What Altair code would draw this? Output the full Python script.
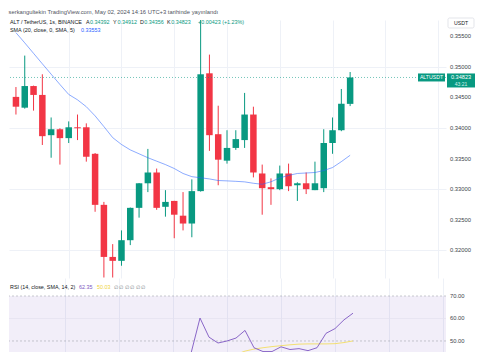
import altair as alt
import pandas as pd

# ---------------- data ----------------
idx = list(range(39))
opens = [0.34506, 0.34330, 0.34683, 0.34538, 0.33881, 0.33978, 0.33833, 0.34010, 0.34010, 0.33577,
         0.32744, 0.31894, 0.31830, 0.32167, 0.32695, 0.33096, 0.33272, 0.32712, 0.32808, 0.32567,
         0.32439, 0.32968, 0.34891, 0.33897, 0.33465, 0.33673, 0.33801, 0.34218, 0.33256, 0.33032,
         0.33000, 0.33256, 0.33064, 0.33096, 0.32984, 0.33016, 0.33753, 0.33962, 0.34392]
highs = [0.34667, 0.35180, 0.34690, 0.34875, 0.34170, 0.33994, 0.34106, 0.34218, 0.34074, 0.33590,
         0.32792, 0.32103, 0.32327, 0.32700, 0.33100, 0.33657, 0.33336, 0.32984, 0.32810, 0.32952,
         0.33160, 0.35850, 0.35196, 0.34362, 0.33962, 0.33962, 0.34571, 0.34346, 0.33401, 0.33176,
         0.33385, 0.33417, 0.33112, 0.33272, 0.33449, 0.33978, 0.34170, 0.34635, 0.34912]
lows = [0.34218, 0.34314, 0.34282, 0.33721, 0.33513, 0.33401, 0.33753, 0.33801, 0.33449, 0.32631,
        0.31558, 0.31558, 0.31750, 0.32087, 0.32535, 0.32952, 0.32663, 0.32551, 0.32199, 0.32327,
        0.32215, 0.32960, 0.33625, 0.33064, 0.33417, 0.33641, 0.33673, 0.33192, 0.32583, 0.32744,
        0.32984, 0.32968, 0.32808, 0.32920, 0.32984, 0.32952, 0.33577, 0.33946, 0.34356]
closes = [0.34346, 0.34683, 0.34538, 0.33865, 0.33978, 0.33833, 0.34010, 0.33994, 0.33529, 0.32744,
          0.31894, 0.31830, 0.32167, 0.32695, 0.33096, 0.33272, 0.32695, 0.32792, 0.32583, 0.32439,
          0.32968, 0.34875, 0.33881, 0.33481, 0.33673, 0.33817, 0.34218, 0.33272, 0.33016, 0.33000,
          0.33256, 0.33048, 0.33096, 0.33000, 0.33096, 0.33753, 0.33962, 0.34394, 0.34823]
sma20 = [0.35554, 0.35388, 0.35217, 0.35046, 0.34877, 0.34708, 0.34546, 0.34458, 0.34346, 0.34196,
         0.34021, 0.33841, 0.33729, 0.33641, 0.33577, 0.33513, 0.33457, 0.33401, 0.33337, 0.33256,
         0.33204, 0.33186, 0.33167, 0.33141, 0.33135, 0.33128, 0.33119, 0.33096, 0.33080, 0.33120,
         0.33184, 0.33224, 0.33256, 0.33264, 0.33272, 0.33304, 0.33353, 0.33449, 0.33553]
rsi = [40.0, 44.0, 42.0, 35.0, 36.0, 35.0, 37.0, 36.8, 32.0, 26.0,
       21.0, 20.5, 27.0, 33.0, 41.2, 42.8, 37.0, 38.5, 36.0, 35.0,
       44.5, 60.2, 51.7, 49.1, 50.0, 51.3, 54.7, 47.0, 45.3, 45.3,
       47.4, 46.2, 46.6, 45.7, 47.0, 53.4, 55.5, 59.4, 62.35]
rsi_ma = [36.0, 36.2, 36.3, 36.1, 36.0, 35.9, 36.0, 36.1, 35.8, 35.2,
          34.3, 33.4, 33.0, 33.1, 33.6, 34.0, 34.2, 34.5, 34.9, 35.5,
          36.6, 38.0, 39.2, 40.5, 42.0, 44.0, 45.5, 46.4, 47.0, 47.5,
          47.9, 48.3, 48.6, 48.7, 48.7, 48.7, 48.8, 49.3, 50.03]
price_ticks = [0.320, 0.325, 0.330, 0.335, 0.340, 0.345, 0.350, 0.355]
rsi_ticks = [50, 60, 70]
grid_x = [6, 12, 18, 24, 30, 36, 42, 48]

df = pd.DataFrame({"idx": idx, "open": opens, "high": highs, "low": lows, "close": closes,
                   "sma": sma20, "rsi": rsi, "rsima": rsi_ma})
one = pd.DataFrame({"a": [0]})
pt_df = pd.DataFrame({"p": price_ticks})
rt_df = pd.DataFrame({"r": rsi_ticks})

GREEN = "#089981"
RED = "#f23645"
DARK = "#131722"
AXC = "#3b3f4a"
FONT = "Liberation Sans"
W = 437
H1 = 258
H2 = 74
last_close = closes[-1]

xscale = alt.Scale(domain=[-0.222, 48.333], nice=False, zero=False)
xaxis = alt.Axis(values=grid_x, labels=False, ticks=False, domain=False, grid=True,
                 gridColor="#eef1f7", title=None)
yscale = alt.Scale(domain=[0.3155, 0.35761], nice=False, zero=False)
yaxis = alt.Axis(orient="right", values=price_ticks, labels=False, grid=True, gridColor="#eef1f7",
                 domain=False, ticks=False, title=None, minExtent=30, maxExtent=30)
col = alt.condition("datum.close >= datum.open", alt.value(GREEN), alt.value(RED))


def label(txt, x, y, color, size=5.4, align="left", chart_y=None, dy=0):
    enc = dict(x=alt.value(x), text=alt.value(txt))
    if chart_y is None:
        enc["y"] = alt.value(y)
    else:
        enc["y"] = alt.Y(datum=chart_y)
    return alt.Chart(one).mark_text(align=align, baseline="middle", fontSize=size, font=FONT,
                                    color=color, dy=dy).encode(**enc)


base = alt.Chart(df).encode(x=alt.X("idx:Q", scale=xscale, axis=xaxis))
wicks = base.mark_rule(strokeWidth=1, clip=True).encode(
    y=alt.Y("low:Q", scale=yscale, axis=yaxis), y2="high:Q", color=col)
bodies = base.mark_bar(size=6.5, clip=True).encode(y="open:Q", y2="close:Q", color=col)
sma_line = base.mark_line(color="#2962ff", strokeWidth=0.9, opacity=0.6, clip=True).encode(y="sma:Q")
close_rule = alt.Chart(one).mark_rule(color=GREEN, strokeDash=[1, 2], opacity=0.7, strokeWidth=0.8).encode(
    y=alt.Y(datum=last_close))
price_labels = alt.Chart(pt_df).mark_text(align="left", baseline="middle", fontSize=5.8, font=FONT,
                                          color=AXC).encode(
    x=alt.value(W + 4), y="p:Q", text=alt.Text("p:Q", format=".5f"))

# price tag boxes
tag_sym = alt.Chart(one).mark_rect(color=GREEN, yOffset=-4, y2Offset=4).encode(
    x=alt.value(W - 28), x2=alt.value(W - 1), y=alt.Y(datum=last_close), y2=alt.Y2(datum=last_close))
tag_price = alt.Chart(one).mark_rect(color=GREEN, yOffset=-4, y2Offset=10).encode(
    x=alt.value(W + 1), x2=alt.value(W + 29), y=alt.Y(datum=last_close), y2=alt.Y2(datum=last_close))
usdt_box = alt.Chart(one).mark_rect(fill="white", stroke="#d1d4dc", strokeWidth=0.6, cornerRadius=1.5).encode(
    x=alt.value(W + 2), x2=alt.value(W + 28), y=alt.value(-2), y2=alt.value(8))

texts = [
    label("ALT / TetherUS, 1s, BINANCE", 1, 2, DARK),
    label("A", 77, 2, DARK), label("0.34392", 81, 2, GREEN),
    label("Y", 104, 2, DARK), label("0.34912", 108.5, 2, GREEN),
    label("D", 131, 2, DARK), label("0.34356", 135.2, 2, GREEN),
    label("K", 158, 2, DARK), label("0.34823", 162.2, 2, GREEN),
    label("+0.00423 (+1.23%)", 189, 2, GREEN),
    label("SMA (20, close, 0, SMA, 5)", 1, 10, DARK),
    label("0.33553", 72, 10, "#2962ff"),
    label("USDT", W + 15, 3, DARK, size=5.2, align="center"),
    label("ALTUSDT", W - 14.5, 0, "white", size=5.2, align="center", chart_y=last_close),
    label("0.34823", W + 15, 0, "white", size=5.6, align="center", chart_y=last_close, dy=-0.5),
    label("43:21", W + 15, 0, "#d6f2ec", size=5.0, align="center", chart_y=last_close, dy=6.5),
]

main = alt.layer(wicks, bodies, sma_line, close_rule, price_labels, tag_sym, tag_price, usdt_box,
                 *texts).properties(width=W, height=H1)

# ---------------- RSI pane ----------------
rscale = alt.Scale(domain=[45.1, 78.0], nice=False, zero=False)
raxis = alt.Axis(orient="right", values=rsi_ticks, labels=False, grid=False, domain=False, ticks=False,
                 title=None, minExtent=30, maxExtent=30)
band = alt.Chart(one).mark_rect(color="#7e57c2", opacity=0.1, clip=True).encode(
    x=alt.value(0), x2=alt.value(W), y=alt.Y(datum=70, scale=rscale, axis=raxis), y2=alt.Y2(datum=30))
lvl = pd.DataFrame({"v": [70, 50]})
dashed = alt.Chart(lvl).mark_rule(color="#9598a1", strokeDash=[2, 2], strokeWidth=0.7, opacity=0.7).encode(
    y="v:Q")
mid = alt.Chart(one).mark_rule(color="#e3e0ee", strokeWidth=0.7).encode(y=alt.Y(datum=60))
rbase = alt.Chart(df).encode(x=alt.X("idx:Q", scale=xscale, axis=xaxis))
rsi_line = rbase.mark_line(color="#7e57c2", strokeWidth=0.9, clip=True).encode(y="rsi:Q")
rsima_line = rbase.mark_line(color="#f3de62", strokeWidth=0.9, clip=True).encode(y="rsima:Q")
rsi_labels = alt.Chart(rt_df).mark_text(align="left", baseline="middle", fontSize=5.8, font=FONT,
                                        color=AXC).encode(
    x=alt.value(W + 4), y="r:Q", text=alt.Text("r:Q", format=".2f"))
rtexts = [
    label("RSI (14, close, SMA, 14, 2)", 1, 9, DARK),
    label("62.35", 70, 9, "#7e57c2"),
    label("50.03", 88, 9, "#f0d43a"),
    label("∅ ∅ ∅ ∅ ∅ ∅", 105, 9, "#787b86"),
]
rsi_pane = alt.layer(band, mid, dashed, rsima_line, rsi_line, rsi_labels, *rtexts).properties(
    width=W, height=H2)

chart = alt.vconcat(main, rsi_pane, spacing=0).properties(
    padding=0,
    title=alt.TitleParams("serkangultekin TradingView.com, May 02, 2024 14:16 UTC+3 tarihinde yayınlandı",
                          anchor="start", fontSize=5.8, color="#50535e", fontWeight="normal",
                          offset=3, font=FONT),
).configure_view(stroke=None).configure_concat(spacing=0)

chart.save("out.html", embed_options={"renderer": "svg", "actions": False})
